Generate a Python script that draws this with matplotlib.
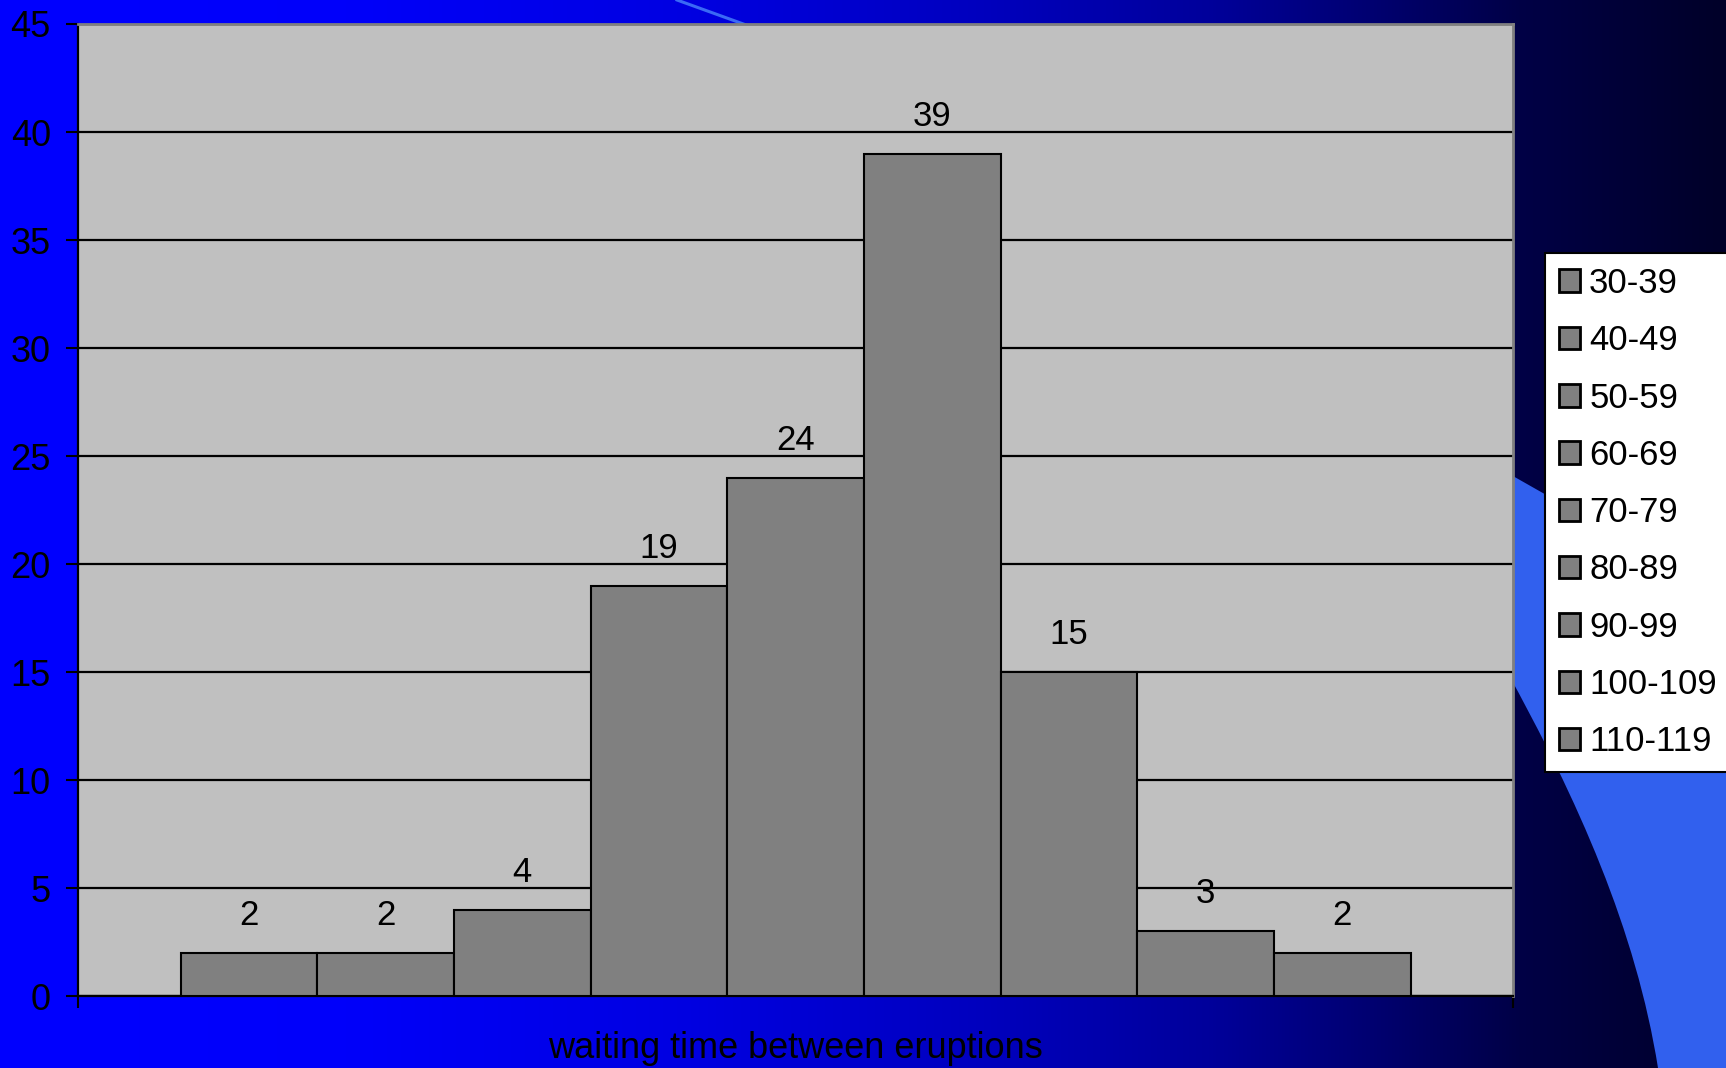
import numpy as np
import matplotlib.pyplot as plt
from matplotlib.patches import PathPatch
from matplotlib.path import Path

plt.rcParams['font.family'] = ['Liberation Sans', 'DejaVu Sans']

# histogram data
bins = ['30-39', '40-49', '50-59', '60-69', '70-79',
        '80-89', '90-99', '100-109', '110-119']
counts = [2, 2, 4, 19, 24, 39, 15, 3, 2]
x_label = 'waiting time between eruptions'

W, H = 1726, 1068
fig = plt.figure(figsize=(W / 100, H / 100), dpi=100)

# slide background: blue to navy gradient plus a light blue swoosh
bg = fig.add_axes([0, 0, 1, 1], zorder=0)
grad_f = [0, 0.2, 0.4, 0.57, 0.7, 0.8, 0.88, 1.0]
grad_b = [255, 250, 225, 190, 155, 110, 70, 40]
img = np.zeros((1, W, 3))
img[0, :, 2] = np.interp(np.linspace(0, 1, W), grad_f, grad_b) / 255
bg.imshow(img, extent=[0, W, H, 0], aspect='auto', interpolation='bilinear')
verts = [(1490, 463), (1726, 597), (1726, 1068), (1658, 1068),
         (1636, 930), (1578, 800), (1505, 668), (1490, 463)]
codes = [Path.MOVETO, Path.LINETO, Path.LINETO, Path.LINETO,
         Path.CURVE4, Path.CURVE4, Path.CURVE4, Path.CLOSEPOLY]
bg.add_patch(PathPatch(Path(verts, codes), facecolor='#3160EE', edgecolor='none'))
bg.plot([677, 760], [0, 30], color='#3A6AF5', lw=2.2)
bg.set_xlim(0, W)
bg.set_ylim(H, 0)
bg.axis('off')

# chart
ax = fig.add_axes([78 / W, 1 - 996 / H, 1435 / W, (996 - 24) / H], zorder=1)
ax.set_facecolor('#C0C0C0')
for i, (lab, c) in enumerate(zip(bins, counts)):
    ax.bar(i, c, width=1.0, color='#808080', edgecolor='black',
           linewidth=1.5, label=lab, zorder=3)
    ax.annotate(str(c), (i, c), xytext=(0, 20), textcoords='offset points',
                ha='center', va='baseline', fontsize=25, zorder=4)

ax.set_xlim(-1.25, 9.25)
ax.set_ylim(0, 45)
ax.set_yticks(range(0, 46, 5))
ax.set_xticks([-1.25, 9.25])
ax.set_xticklabels([])
ax.tick_params(axis='y', direction='out', length=8.6, width=1.5, pad=11,
               labelsize=26, colors='black')
ax.tick_params(axis='x', direction='out', length=8.6, width=1.5)
ax.yaxis.grid(True, color='black', lw=1.6)
ax.set_axisbelow(True)
for s in ['left', 'bottom']:
    ax.spines[s].set_color('black')
    ax.spines[s].set_linewidth(1.6)
for s in ['top', 'right']:
    ax.spines[s].set_color('#808080')
    ax.spines[s].set_linewidth(2)

fig.text((78 + 1513) / 2 / W, (H - 1058) / H, x_label, ha='center',
         va='baseline', fontsize=26)

leg = ax.legend(loc='upper left', bbox_to_anchor=(1545 / W, (H - 253) / H),
                bbox_transform=fig.transFigure, fontsize=25, frameon=True,
                fancybox=False, edgecolor='black', facecolor='white',
                framealpha=1, borderaxespad=0, borderpad=0.4,
                labelspacing=0.70, handlelength=0.62, handleheight=0.62,
                handletextpad=0.25)
leg.get_frame().set_linewidth(1.5)
for h in leg.legend_handles:
    h.set_linewidth(2)

fig.savefig('out.png', dpi=100)
